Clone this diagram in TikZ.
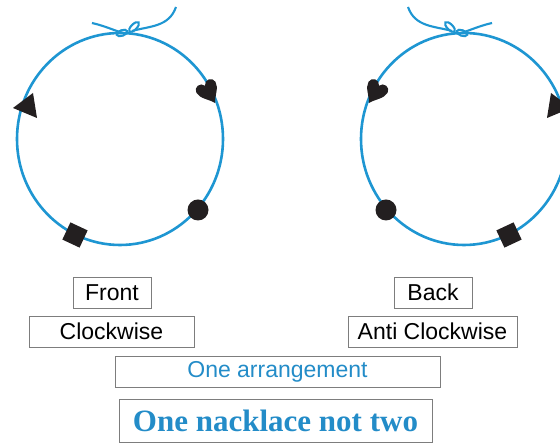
\documentclass[tikz,border=0pt]{standalone}
\usepackage{fontspec}
\setmainfont{Liberation Sans}
\newfontfamily\titleserif{Liberation Serif}
\definecolor{ringblue}{RGB}{30,150,210}
\definecolor{textblue}{RGB}{35,140,200}
\definecolor{beadblack}{RGB}{35,31,32}
\definecolor{boxgray}{RGB}{125,125,125}
\tikzset{
  string/.style={draw=ringblue, line width=2.6pt},
  thinstring/.style={draw=ringblue, line width=2.1pt},
  bead/.style={fill=beadblack, draw=none},
  labelbox/.style={draw=boxgray, line width=0.9pt, inner sep=0pt,
    minimum height=31pt, text=black, font=\fontsize{23}{27}\selectfont},
}
% one necklace: ring, tie and four beads
\newcommand{\necklacedrawing}{%
  \draw[string] (120,304) ellipse [x radius=103, y radius=106];
  \draw[thinstring] (92,420) .. controls (105,417) and (113,413) .. (123,410);
  \draw[thinstring] (132,412) .. controls (150,417) and (169,416) .. (176,436);
  \draw[thinstring] (122,410) ellipse [x radius=5.5, y radius=2.8, rotate=20];
  \draw[thinstring] (134,416) ellipse [x radius=6.5, y radius=2.8, rotate=45];
  \fill[bead] (13,335) -- (33,350) -- (37,325) -- cycle;
  \fill[bead, shift={(215,340)}, rotate=30, xscale=11, yscale=12.5]
    (0,0) .. controls (-0.3,0.5) and (-1,0.9) .. (-1,1.45)
    .. controls (-1,1.95) and (-0.2,2.05) .. (0,1.6)
    .. controls (0.2,2.05) and (1,1.95) .. (1,1.45)
    .. controls (1,0.9) and (0.3,0.5) .. (0,0) -- cycle;
  \fill[bead] (198,233) circle (10.5);
  \fill[bead, shift={(75,208)}, rotate=-25] (-9.5,-9.5) rectangle (9.5,9.5);
}
\begin{document}
\begin{tikzpicture}[x=1pt,y=1pt]
\useasboundingbox (0,0) rectangle (560,443);
\clip (0,0) rectangle (560,443);
\fill[white] (0,0) rectangle (560,443);

% front view and its mirror image (back view)
\begin{scope}
  \necklacedrawing
\end{scope}
\begin{scope}[xshift=584pt, xscale=-1]
  \necklacedrawing
\end{scope}

% captions
\node[labelbox, minimum width=78pt] (front) at (112,150.5) {Front};
\node[labelbox, minimum width=165pt] (cw) at (111.5,111.5) {Clockwise};
\node[labelbox, minimum width=78pt] (back) at (433,150.5) {Back};
\node[labelbox, minimum width=169pt] (acw) at (432.5,111.5) {Anti Clockwise};
\node[labelbox, minimum width=325pt, text=textblue] (arr) at (277.5,71.5) {One arrangement};
\node[labelbox, minimum width=313pt, minimum height=43pt, text=textblue,
      font=\titleserif\bfseries\fontsize{31}{36}\selectfont] (neck) at (275.5,22.5) {One nacklace not two};
\end{tikzpicture}
\end{document}
